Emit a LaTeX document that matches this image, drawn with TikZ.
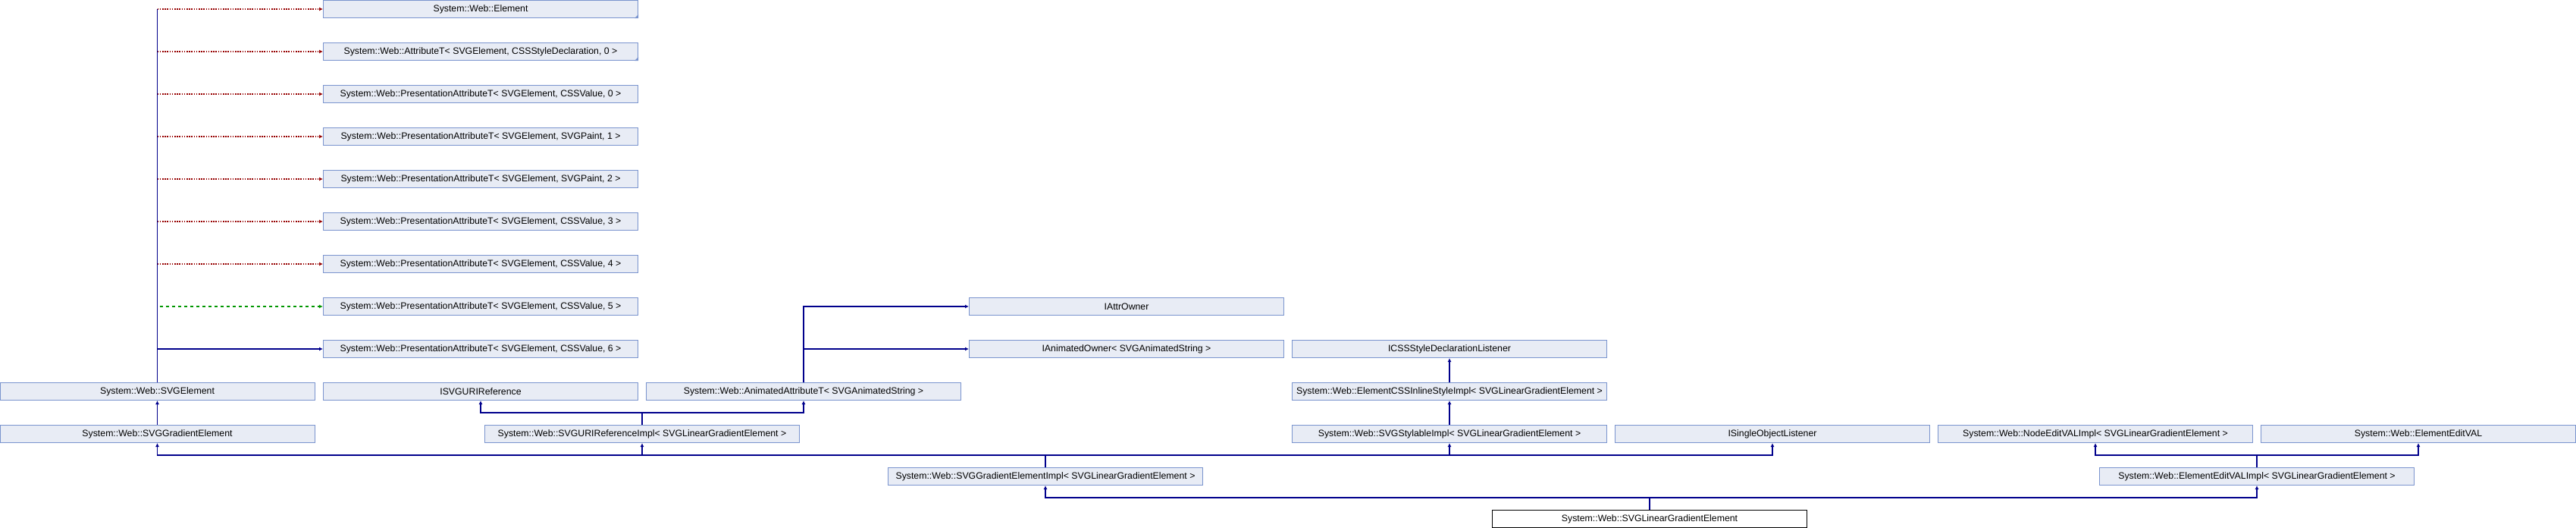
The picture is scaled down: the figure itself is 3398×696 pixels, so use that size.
\documentclass[tikz,border=0pt]{standalone}
\usepackage{fontspec}
\setmainfont{Liberation Sans}
\usetikzlibrary{arrows.meta,calc}
\definecolor{boxfill}{RGB}{232,236,245}
\definecolor{boxline}{RGB}{122,148,206}
\definecolor{publine}{RGB}{0,0,140}
\definecolor{privline}{RGB}{150,0,0}
\definecolor{protline}{RGB}{0,150,0}
\begin{document}
\begin{tikzpicture}[x=1pt,y=-1pt,
    cls/.style={draw=boxline,fill=boxfill,line width=1pt,minimum width=415pt,minimum height=23pt,inner sep=0pt,font=\fontsize{12.3}{14}\selectfont},
    cur/.style={cls,draw=black,fill=white},
    pub/.style={draw=publine,line width=1.1pt,-{Latex[length=5pt,width=5pt]}},
    pubplain/.style={draw=publine,line width=1.1pt},
    priv/.style={draw=privline,line width=1.1pt,dash pattern=on 1.6pt off 1.6pt,-{Latex[length=5pt,width=5pt]}},
    prot/.style={draw=protline,line width=1.1pt,dash pattern=on 4pt off 4pt,-{Latex[length=5pt,width=5pt]}}]
    \useasboundingbox (0,0) rectangle (3398,696);
    \node[cls] (elem) at (634,12) {System::Web::Element};
    \node[cls] (attr) at (634,68) {System::Web::AttributeT< SVGElement, CSSStyleDeclaration, 0 >};
    \node[cls] (pa0) at (634,124) {System::Web::PresentationAttributeT< SVGElement, CSSValue, 0 >};
    \node[cls] (pa1) at (634,180) {System::Web::PresentationAttributeT< SVGElement, SVGPaint, 1 >};
    \node[cls] (pa2) at (634,236) {System::Web::PresentationAttributeT< SVGElement, SVGPaint, 2 >};
    \node[cls] (pa3) at (634,292) {System::Web::PresentationAttributeT< SVGElement, CSSValue, 3 >};
    \node[cls] (pa4) at (634,348) {System::Web::PresentationAttributeT< SVGElement, CSSValue, 4 >};
    \node[cls] (pa5) at (634,404) {System::Web::PresentationAttributeT< SVGElement, CSSValue, 5 >};
    \node[cls] (pa6) at (634,460) {System::Web::PresentationAttributeT< SVGElement, CSSValue, 6 >};
    \node[cls] (iattr) at (1486,404) {IAttrOwner};
    \node[cls] (ianim) at (1486,460) {IAnimatedOwner< SVGAnimatedString >};
    \node[cls] (icss) at (1912,460) {ICSSStyleDeclarationListener};
    \node[cls] (svgelem) at (207.5,516) {System::Web::SVGElement};
    \node[cls] (isvguri) at (634,516) {ISVGURIReference};
    \node[cls] (animattr) at (1060,516) {System::Web::AnimatedAttributeT< SVGAnimatedString >};
    \node[cls] (inline) at (1912,516) {System::Web::ElementCSSInlineStyleImpl< SVGLinearGradientElement >};
    \node[cls] (gradelem) at (207.5,572) {System::Web::SVGGradientElement};
    \node[cls] (uriimpl) at (847,572) {System::Web::SVGURIReferenceImpl< SVGLinearGradientElement >};
    \node[cls] (stylable) at (1912,572) {System::Web::SVGStylableImpl< SVGLinearGradientElement >};
    \node[cls] (isingle) at (2338,572) {ISingleObjectListener};
    \node[cls] (nodeedit) at (2764,572) {System::Web::NodeEditVALImpl< SVGLinearGradientElement >};
    \node[cls] (editval) at (3190,572) {System::Web::ElementEditVAL};
    \node[cls] (gradimpl) at (1379,628) {System::Web::SVGGradientElementImpl< SVGLinearGradientElement >};
    \node[cls] (editimpl) at (2977,628) {System::Web::ElementEditVALImpl< SVGLinearGradientElement >};
    \node[cur] (linear) at (2176,684) {System::Web::SVGLinearGradientElement};
    \fill[boxline] (elem.south east) -- ++(-5,0) -- ++(5,-5) -- cycle;
    \fill[boxline] (attr.south east) -- ++(-5,0) -- ++(5,-5) -- cycle;
    \draw[pubplain] (svgelem.north) -- (svgelem.north |- elem.west);
    \foreach \n in {elem,attr,pa0,pa1,pa2,pa3,pa4}
        \draw[priv] (svgelem.north |- \n.west) -- (\n.west);
    \draw[prot] ($(svgelem.north |- pa5.west)+(3,0)$) -- (pa5.west);
    \draw[pub] (svgelem.north |- pa6.west) -- (pa6.west);
    \draw[pub] (gradelem.north) -- (svgelem.south);
    \draw[pub] (animattr.north) |- (iattr.west);
    \draw[pub] (animattr.north) |- (ianim.west);
    \draw[pub] (inline.north) -- (icss.south);
    \draw[pub] (stylable.north) -- (inline.south);
    \coordinate (j1) at ($(uriimpl.north)+(0,-16)$);
    \draw[pubplain] (uriimpl.north) -- (j1);
    \foreach \n in {isvguri,animattr}
        \draw[pub] (j1) -| (\n.south);
    \coordinate (j2) at ($(gradimpl.north)+(0,-16)$);
    \draw[pubplain] (gradimpl.north) -- (j2);
    \foreach \n in {gradelem,uriimpl,stylable,isingle}
        \draw[pub] (j2) -| (\n.south);
    \coordinate (j3) at ($(editimpl.north)+(0,-16)$);
    \draw[pubplain] (editimpl.north) -- (j3);
    \foreach \n in {nodeedit,editval}
        \draw[pub] (j3) -| (\n.south);
    \coordinate (j4) at ($(linear.north)+(0,-16)$);
    \draw[pubplain] (linear.north) -- (j4);
    \foreach \n in {gradimpl,editimpl}
        \draw[pub] (j4) -| (\n.south);
\end{tikzpicture}
\end{document}
